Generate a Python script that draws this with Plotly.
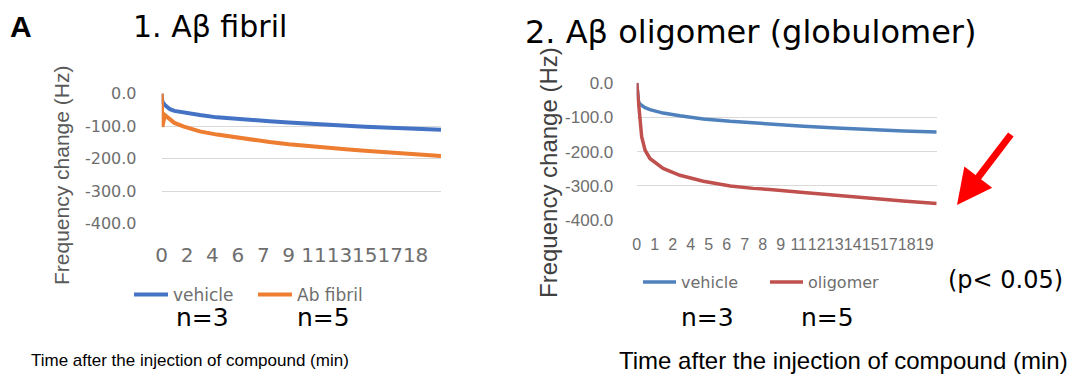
import plotly.graph_objects as go

# ---------------- data ----------------
# Panel 1: A-beta fibril (x = sample position on the category axis)
p1_pos = [0, 0.1, 0.5, 1.3, 2, 3.4, 6, 8.7, 11, 13.9, 17, 20, 23, 26, 29, 32, 35, 38, 41, 44]
p1_vehicle = [0, -25, -35, -48, -53, -58, -66, -73, -77, -81, -85, -89, -93, -96, -100, -102, -104, -106, -108, -111]
p1_fibril = [0, -102, -66, -81, -90, -101, -116, -126, -133, -141, -149, -156, -162, -167, -171, -176, -180, -184, -188, -192]
p1_tick_pos = [0, 4, 8, 12, 16, 20, 24, 28, 32, 36, 40]
p1_tick_text = ["0", "2", "4", "6", "7", "9", "11", "13", "15", "17", "18"]

# Panel 2: A-beta oligomer (globulomer)
p2_pos = [0, 0.3, 0.55, 0.83, 1.4, 2.2, 4.4, 7.2, 11.1, 15.6, 19.4, 22.2, 27.8, 33.3, 38.9, 44.4, 50]
p2_vehicle = [0, -55, -62, -66, -72, -78, -88, -96, -105, -112, -117, -119, -126, -131, -136, -140, -143]
p2_oligomer = [0, -60, -109, -157, -196, -220, -249, -269, -286, -300, -307, -310, -319, -328, -336, -344, -351]
p2_tick_pos = [0, 3, 6, 9, 12, 15, 18, 21, 24, 27, 30, 33, 36, 39, 42, 45, 48]
p2_tick_text = ["0", "1", "2", "4", "5", "6", "7", "8", "9", "11", "12", "13", "14", "15", "17", "18", "19"]

y_tick_vals = [0, -100, -200, -300, -400]
y_tick_text = ["0.0", "-100.0", "-200.0", "-300.0", "-400.0"]

W, H = 1078, 377
def px(x):
    return x / W
def py(y):
    return 1 - y / H

GRID = "#d9d9d9"
TICKC = "#6e6e6e"

fig = go.Figure()
fig.add_trace(go.Scatter(x=p1_pos, y=p1_vehicle, mode="lines", name="vehicle",
                         line=dict(color="#4472C4", width=4), xaxis="x", yaxis="y", legend="legend"))
fig.add_trace(go.Scatter(x=p1_pos, y=p1_fibril, mode="lines", name="Ab fibril",
                         line=dict(color="#ED7D31", width=4), xaxis="x", yaxis="y", legend="legend"))
fig.add_trace(go.Scatter(x=p2_pos, y=p2_vehicle, mode="lines", name="vehicle",
                         line=dict(color="#4F81BD", width=3.5), xaxis="x2", yaxis="y2", legend="legend2"))
fig.add_trace(go.Scatter(x=p2_pos, y=p2_oligomer, mode="lines", name="oligomer",
                         line=dict(color="#C0504D", width=3.5), xaxis="x2", yaxis="y2", legend="legend2"))

fig.update_layout(
    width=W, height=H, margin=dict(l=0, r=0, t=0, b=0, autoexpand=False),
    paper_bgcolor="white", plot_bgcolor="white",
    xaxis=dict(domain=[px(161.7), px(441)], range=[0, p1_pos[-1]], tickvals=p1_tick_pos, ticktext=p1_tick_text,
               showgrid=False, zeroline=False, showline=False, ticks="outside", ticklen=13, tickangle=0,
               tickcolor="rgba(0,0,0,0)", tickfont=dict(family="DejaVu Sans", size=20, color=TICKC),
               anchor="y", automargin=False),
    yaxis=dict(domain=[py(224), py(93.3)], range=[-401, 1], tickvals=y_tick_vals, ticktext=y_tick_text,
               showgrid=True, gridcolor=GRID, gridwidth=1, zeroline=False, showline=False,
               ticks="outside", ticklen=21, tickcolor="rgba(0,0,0,0)",
               tickfont=dict(family="DejaVu Sans", size=16, color=TICKC), anchor="x", automargin=False),
    xaxis2=dict(domain=[px(636.7), px(936.7)], range=[0, p2_pos[-1]], tickvals=p2_tick_pos, ticktext=p2_tick_text,
                showgrid=False, zeroline=False, showline=False, ticks="outside", ticklen=9, tickangle=0,
                tickcolor="rgba(0,0,0,0)", tickfont=dict(family="Liberation Sans", size=16, color=TICKC),
                anchor="y2", automargin=False),
    yaxis2=dict(domain=[py(220.7), py(82.5)], range=[-401, 1], tickvals=y_tick_vals, ticktext=y_tick_text,
                showgrid=True, gridcolor=GRID, gridwidth=1, zeroline=False, showline=False,
                ticks="outside", ticklen=19, tickcolor="rgba(0,0,0,0)",
                tickfont=dict(family="Liberation Sans", size=17, color=TICKC), anchor="x2", automargin=False),
    legend=dict(orientation="h", x=px(129), y=py(295), xanchor="left", yanchor="middle",
                font=dict(family="DejaVu Sans", size=17, color="#6e6e6e"), bgcolor="rgba(0,0,0,0)",
                entrywidth=75, entrywidthmode="pixels", itemwidth=34),
    legend2=dict(orientation="h", x=px(638), y=py(282), xanchor="left", yanchor="middle",
                 font=dict(family="DejaVu Sans", size=16, color="#6e6e6e"), bgcolor="rgba(0,0,0,0)",
                 entrywidth=79, entrywidthmode="pixels", itemwidth=33),
    showlegend=True,
)

ann = []
def text(x, y, s, size, family="DejaVu Sans", color="black", angle=0, bold=False, xanchor="center"):
    ann.append(dict(x=px(x), y=py(y), xref="paper", yref="paper", text=("<b>%s</b>" % s if bold else s),
                    showarrow=False, xanchor=xanchor, yanchor="middle", textangle=angle,
                    font=dict(family=family, size=size, color=color)))

text(21, 27, "A", 30, family="Liberation Sans", bold=True)
text(210, 27, "1. Aβ fibril", 30)
text(750, 32, "2. Aβ oligomer (globulomer)", 32)
text(61, 176, "Frequency change (Hz)", 21, family="Liberation Sans", color="#595959", angle=-90)
text(548, 173, "Frequency change (Hz)", 24, family="Liberation Sans", color="#404040", angle=-90)
text(202, 317, "n=3", 25)
text(323, 317, "n=5", 25)
text(707, 317, "n=3", 25)
text(827, 317, "n=5", 25)
text(1006, 280, "(p&lt; 0.05)", 24)
text(190, 360, "Time after the injection of compound (min)", 17, family="Liberation Sans")
text(843, 360, "Time after the injection of compound (min)", 24, family="Liberation Sans")

ann.append(dict(x=px(957), y=py(205), xref="paper", yref="paper", text="", showarrow=True,
                ax=55, ay=-72, arrowcolor="#ff0000", arrowwidth=7, arrowhead=2, arrowsize=1))

fig.update_layout(annotations=ann)
fig.write_html("out.html", config={"displayModeBar": False},
               post_script="document.body.style.margin='0';document.body.style.padding='0';")
